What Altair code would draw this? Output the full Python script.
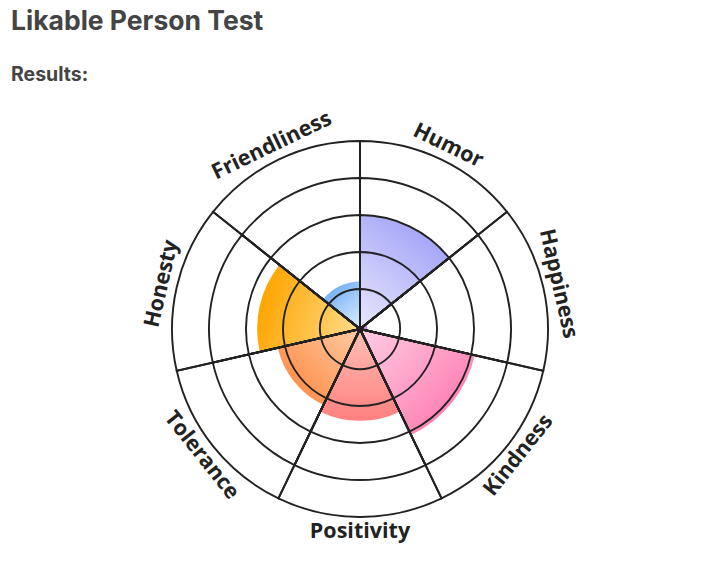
import math
import altair as alt
import pandas as pd

# ---- data ----
traits = ["Humor", "Happiness", "Kindness", "Positivity", "Tolerance", "Honesty", "Friendliness"]
scores = [3.0, 0.12, 3.1, 2.4, 2.2, 2.7, 1.2]
inner_colors = ["#e8e8fe", "#c890f0", "#ffcfe4", "#ffc0b4", "#ffcca4", "#ffdc8c", "#e0f0ff"]
outer_colors = ["#a8a8f8", "#c080f0", "#ff84b6", "#ff8080", "#ff9250", "#ffa500", "#7cb4f6"]
levels = [1, 2, 3, 4, 5]
title_text = "Likable Person Test"
subtitle_text = "Results:"

# ---- geometry / style ----
W, H = 706, 565
CX, CY = 360, 329
R0, R5 = 3, 188
MAXV = 5
N = len(traits)
STEP = 2 * math.pi / N
rscale = alt.Scale(domain=[0, MAXV], range=[R0, R5])

rows = []
for i, (t, s) in enumerate(zip(traits, scores)):
    mid_deg = (i + 0.5) * 360 / N
    rot = mid_deg if (mid_deg < 90 or mid_deg > 270) else mid_deg - 180
    rows.append(dict(trait=t, score=s, t0=i * STEP, t1=(i + 1) * STEP,
                     tmid=(i + 0.5) * STEP, rot=rot % 360))
df = pd.DataFrame(rows)

grid_rows = []
for i in range(N):
    for lv in levels:
        grid_rows.append(dict(t0=i * STEP, t1=(i + 1) * STEP, level=lv))
gdf = pd.DataFrame(grid_rows)


def gradient_for(i, score):
    a0, a1 = i * STEP, (i + 1) * STEP
    r = R0 + (R5 - R0) * score / MAXV
    pts = [(0.0, 0.0), (r * math.sin(a0), -r * math.cos(a0)), (r * math.sin(a1), -r * math.cos(a1))]
    for k in range(5):
        a = k * math.pi / 2
        if a0 < a < a1:
            pts.append((r * math.sin(a), -r * math.cos(a)))
    xs = [p[0] for p in pts]
    ys = [p[1] for p in pts]
    xmin, xmax, ymin, ymax = min(xs), max(xs), min(ys), max(ys)
    w = max(xmax - xmin, 1e-6)
    h = max(ymax - ymin, 1e-6)
    am = (a0 + a1) / 2
    x1, y1 = (0 - xmin) / w, (0 - ymin) / h
    x2, y2 = (r * math.sin(am) - xmin) / w, (-r * math.cos(am) - ymin) / h
    return alt.Gradient(
        gradient="linear",
        x1=x1, y1=y1, x2=x2, y2=y2,
        stops=[alt.GradientStop(color=inner_colors[i], offset=0),
               alt.GradientStop(color=outer_colors[i], offset=1)],
    )


base = alt.Chart(df)

layers = []
for i, t in enumerate(traits):
    layers.append(
        base.transform_filter(alt.datum.trait == t)
        .mark_arc(color=gradient_for(i, scores[i]))
        .encode(
            theta=alt.Theta("t0:Q", scale=None),
            theta2="t1:Q",
            radius=alt.Radius("score:Q", scale=rscale),
            radius2=alt.value(0),
            x=alt.value(CX), y=alt.value(CY),
        )
    )

grid = alt.Chart(gdf).mark_arc(filled=False, stroke="#222222", strokeWidth=1.9).encode(
    theta=alt.Theta("t0:Q", scale=None),
    theta2="t1:Q",
    radius=alt.Radius("level:Q", scale=rscale),
    radius2=alt.value(0),
    x=alt.value(CX), y=alt.value(CY),
)

labels = base.mark_text(font="Open Sans", fontWeight="bold", fontSize=21.5,
                        color="#222222", baseline="middle", align="center").encode(
    theta=alt.Theta("tmid:Q", scale=None),
    radius=alt.value(203),
    angle=alt.Angle("rot:Q", scale=None),
    text="trait:N",
    x=alt.value(CX), y=alt.value(CY),
)

title = alt.Chart(pd.DataFrame({"t": [title_text]})).mark_text(
    font="Inter", fontWeight="bold", fontSize=26.5, color="#444444", align="left", baseline="alphabetic"
).encode(text="t:N", x=alt.value(11), y=alt.value(30))

subtitle = alt.Chart(pd.DataFrame({"t": [subtitle_text]})).mark_text(
    font="Inter", fontWeight="bold", fontSize=19.5, color="#444444", align="left", baseline="alphabetic"
).encode(text="t:N", x=alt.value(11), y=alt.value(81))

chart = alt.layer(*layers, grid, labels, title, subtitle).properties(
    width=W, height=H, padding=0, autosize=alt.AutoSizeParams(type="none")
).configure_view(stroke=None)

chart.save("out.html", embed_options={"renderer": "svg", "actions": False})
